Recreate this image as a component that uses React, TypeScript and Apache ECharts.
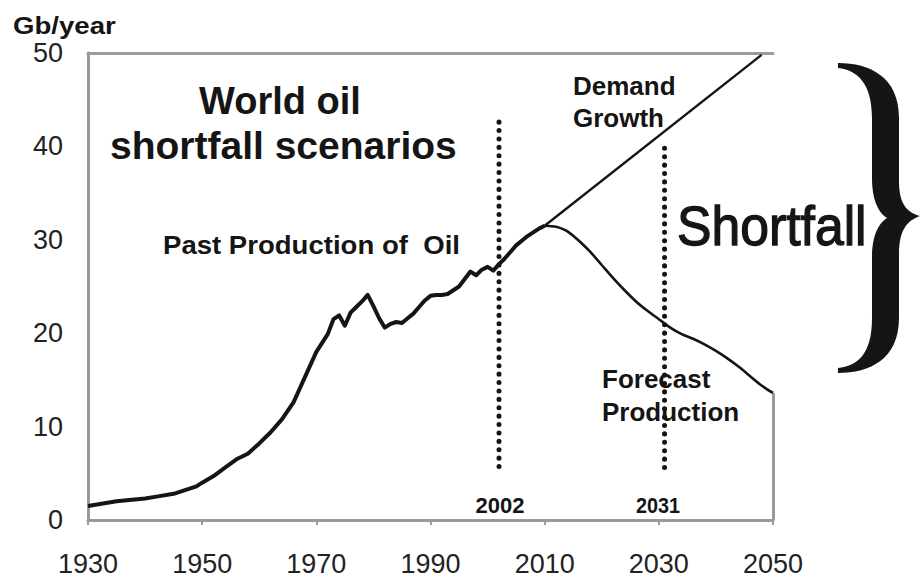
import React, { useEffect, useRef } from "react";
import * as echarts from "echarts";

// ---------- data ----------
const BASE_YEAR = 1930;
const xTickYears = [1930, 1950, 1970, 1990, 2010, 2030, 2050];
const yTicks = [0, 10, 20, 30, 40, 50];

const pastYears = [
  1930, 1935, 1940, 1942, 1945, 1947, 1949, 1950, 1952, 1954, 1956, 1958, 1960,
  1962, 1964, 1966, 1968, 1970, 1972, 1973, 1974, 1975, 1976, 1977, 1978, 1979,
  1980, 1981, 1982, 1983, 1984, 1985, 1986, 1987, 1988, 1989, 1990, 1991, 1992,
  1993, 1994, 1995, 1996, 1997, 1998, 1999, 2000, 2001, 2002, 2003, 2004, 2005,
  2006, 2007, 2008, 2009, 2010,
];
const pastValues = [
  1.5, 2.0, 2.3, 2.5, 2.8, 3.2, 3.6, 4.0, 4.7, 5.6, 6.5, 7.1, 8.2,
  9.4, 10.8, 12.6, 15.3, 18.0, 19.9, 21.5, 21.9, 20.8, 22.2, 22.8, 23.4, 24.1,
  22.9, 21.6, 20.6, 21.0, 21.2, 21.1, 21.6, 22.1, 22.8, 23.5, 24.0, 24.1, 24.1,
  24.2, 24.6, 25.0, 25.8, 26.6, 26.2, 26.8, 27.1, 26.7, 27.4, 28.0, 28.7, 29.4,
  29.9, 30.4, 30.8, 31.2, 31.5,
];

const forecastYears = [
  2010, 2012, 2013, 2014, 2016, 2018, 2020, 2022, 2024, 2026, 2028, 2030, 2032,
  2034, 2036, 2038, 2040, 2042, 2044, 2046, 2048, 2050,
];
const forecastValues = [
  31.5, 31.4, 31.2, 30.9, 29.9, 28.7, 27.3, 25.9, 24.6, 23.4, 22.4, 21.5, 20.6,
  19.9, 19.4, 18.8, 18.1, 17.3, 16.4, 15.4, 14.4, 13.6,
];

const demandYears = [2010, 2048];
const demandValues = [31.5, 49.8];

const marker2002Years = [2002, 2002];
const marker2002Values = [42.6, 5.0];
const marker2031Years = [2031, 2031];
const marker2031Values = [39.8, 5.2];

// ---------- helpers ----------
const toPoints = (years: number[], values: number[]) =>
  years.map((y, i) => [y - BASE_YEAR, values[i]]);

const FONT = "'Liberation Sans', Arial, Helvetica, sans-serif";
const INK = "#151515";
const AXIS = "#9a9a9a";

const BRACE_D =
  "M0,0 C32,0 61,14 61,55 L61,118 C61,140 68,149 82,153 C68,158 61,168 61,192 L61,255 C61,296 32,310 0,310 L0,305 C19,303 34,292 34,255 L34,195 C34,172 41,160 49,155 C41,150 34,138 34,115 L34,55 C34,20 19,7 0,5 Z";

let braceRegistered = false;
function registerBrace() {
  if (braceRegistered) return;
  echarts.graphic.registerShape("brace", echarts.graphic.extendPath(BRACE_D, {}) as any);
  braceRegistered = true;
}

function txt(
  text: string,
  x: number,
  y: number,
  fontSize: number,
  opts: { bold?: boolean; align?: string; scaleX?: number; color?: string; stroke?: number } = {}
) {
  const align = opts.align || "left";
  const style: any = {
    text,
    fontSize,
    fontFamily: FONT,
    fontWeight: opts.bold === false ? "normal" : "bold",
    fill: opts.color || INK,
    align,
    verticalAlign: "middle",
    textAlign: align,
    textVerticalAlign: "middle",
  };
  if (opts.stroke) {
    style.stroke = opts.color || INK;
    style.lineWidth = opts.stroke;
  }
  return {
    type: "text",
    x,
    y,
    scaleX: opts.scaleX || 1,
    silent: true,
    style,
  };
}

export default function App() {
  const ref = useRef<HTMLDivElement>(null);

  useEffect(() => {
    if (!ref.current) return;
    registerBrace();
    const chart = echarts.init(ref.current, undefined, { renderer: "svg" });

    const xMax = xTickYears[xTickYears.length - 1] - BASE_YEAR;
    const lastForecast = forecastValues[forecastValues.length - 1];

    const dotted = {
      color: INK,
      width: 5,
      type: [0.1, 8.3] as any,
      cap: "round",
    };

    chart.setOption({
      animation: false,
      backgroundColor: "#ffffff",
      grid: { left: 88, right: 148, top: 53, bottom: 58, containLabel: false },
      xAxis: [
        {
          type: "value",
          min: 0,
          max: xMax,
          interval: 20,
          axisLine: { show: true, onZero: false, lineStyle: { color: AXIS, width: 3 } },
          axisTick: { show: true, length: 5, lineStyle: { color: AXIS, width: 2 } },
          splitLine: { show: false },
          axisLabel: {
            margin: 30,
            fontSize: 27,
            fontFamily: FONT,
            color: "#222",
            formatter: (v: number) => String(v + BASE_YEAR),
          },
        },
        {
          type: "value",
          position: "top",
          min: 0,
          max: xMax,
          interval: 20,
          axisLine: { show: true, onZero: false, lineStyle: { color: AXIS, width: 3 } },
          axisTick: { show: false },
          axisLabel: { show: false },
          splitLine: { show: false },
        },
      ],
      yAxis: {
        type: "value",
        min: yTicks[0],
        max: yTicks[yTicks.length - 1],
        interval: 10,
        axisLine: { show: true, onZero: false, lineStyle: { color: AXIS, width: 3 } },
        axisTick: { show: false },
        splitLine: { show: false },
        axisLabel: { margin: 25, fontSize: 27, fontFamily: FONT, color: "#222" },
      },
      series: [
        {
          name: "Past Production",
          type: "line",
          data: toPoints(pastYears, pastValues),
          showSymbol: false,
          symbol: "none",
          lineStyle: { color: INK, width: 4, join: "round" },
          z: 5,
        },
        {
          name: "Forecast Production",
          type: "line",
          data: toPoints(forecastYears, forecastValues),
          showSymbol: false,
          symbol: "none",
          smooth: 0.3,
          lineStyle: { color: INK, width: 2.6 },
          z: 5,
          markLine: {
            silent: true,
            symbol: "none",
            label: { show: false },
            lineStyle: { color: AXIS, width: 3, type: "solid" },
            data: [[{ coord: [xMax, lastForecast] }, { coord: [xMax, 0] }]],
          },
        },
        {
          name: "Demand Growth",
          type: "line",
          data: toPoints(demandYears, demandValues),
          showSymbol: false,
          symbol: "none",
          lineStyle: { color: INK, width: 2.4 },
          z: 5,
        },
        {
          name: "2002",
          type: "line",
          data: toPoints(marker2002Years, marker2002Values),
          showSymbol: false,
          symbol: "none",
          lineStyle: dotted,
          z: 4,
        },
        {
          name: "2031",
          type: "line",
          data: toPoints(marker2031Years, marker2031Values),
          showSymbol: false,
          symbol: "none",
          lineStyle: dotted,
          z: 4,
        },
      ],
      graphic: [
        txt("Gb/year", 13, 26, 24, { scaleX: 1.15 }),
        txt("World oil", 280, 101, 38, { align: "center" }),
        txt("shortfall scenarios", 110, 145, 39),
        txt("Past Production of  Oil", 163, 245, 26, { scaleX: 1.06 }),
        txt("Demand", 573, 86, 26),
        txt("Growth", 573, 118, 26),
        txt("Forecast", 602, 379, 26),
        txt("Production", 602, 412, 26),
        txt("2002", 500, 505, 22, { align: "center" }),
        txt("2031", 658, 505, 22, { align: "center", scaleX: 0.9 }),
        txt("Shortfall", 677, 226, 55, { bold: false, scaleX: 0.94, stroke: 1.3 }),
        {
          type: "brace",
          x: 838,
          y: 63,
          silent: true,
          shape: {},
          style: { fill: INK, stroke: "none" },
        },
      ],
    });

    return () => chart.dispose();
  }, []);

  return (
    <div
      ref={ref}
      style={{ position: "absolute", left: 0, top: 0, width: 921, height: 578, background: "#fff" }}
    />
  );
}
